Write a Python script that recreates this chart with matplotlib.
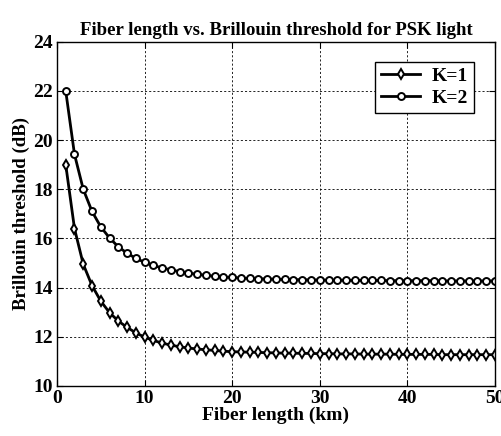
import numpy as np
import matplotlib
matplotlib.use('Agg')
import matplotlib.pyplot as plt

# Fiber length (km)
fiber_km = list(range(1, 51))

# Brillouin threshold (dB), K=1
thr_k1 = [19.0, 16.4, 14.95, 14.08, 13.45, 12.98, 12.64, 12.38, 12.16, 11.98,
          11.85, 11.74, 11.66, 11.59, 11.54, 11.50, 11.47, 11.44, 11.41, 11.39,
          11.38, 11.37, 11.36, 11.35, 11.34, 11.33, 11.33, 11.32, 11.32, 11.31,
          11.31, 11.30, 11.30, 11.30, 11.29, 11.29, 11.29, 11.29, 11.28, 11.28,
          11.28, 11.28, 11.28, 11.27, 11.27, 11.27, 11.27, 11.27, 11.27, 11.27]

# Brillouin threshold (dB), K=2
thr_k2 = [22.0, 19.42, 18.0, 17.1, 16.47, 16.02, 15.66, 15.40, 15.19, 15.03,
          14.90, 14.80, 14.72, 14.65, 14.59, 14.54, 14.50, 14.46, 14.43, 14.41,
          14.39, 14.37, 14.36, 14.35, 14.34, 14.33, 14.32, 14.32, 14.31, 14.31,
          14.30, 14.30, 14.30, 14.29, 14.29, 14.29, 14.29, 14.28, 14.28, 14.28,
          14.28, 14.28, 14.28, 14.27, 14.27, 14.27, 14.27, 14.27, 14.27, 14.27]

plt.rcParams['font.family'] = 'Liberation Serif'
plt.rcParams['font.weight'] = 'bold'

fig = plt.figure(figsize=(5.02, 4.36), dpi=100)
ax = fig.add_axes([0.1135, 0.115, 0.8725, 0.789])

ax.plot(fiber_km, thr_k1, color='black', lw=2.0, marker='d', ms=5.5,
        mfc='white', mec='black', mew=1.4, label='K=1')
ax.plot(fiber_km, thr_k2, color='black', lw=2.0, marker='o', ms=5,
        mfc='white', mec='black', mew=1.4, label='K=2')

ax.set_xlim(0, 50)
ax.set_ylim(10, 24)
ax.set_xticks([0, 10, 20, 30, 40, 50])
ax.set_yticks([10, 12, 14, 16, 18, 20, 22, 24])
ax.tick_params(direction='in', top=True, right=True, labelsize=14, length=4, pad=3)
for lbl in ax.get_xticklabels() + ax.get_yticklabels():
    lbl.set_fontweight('bold')

ax.grid(True, color='black', lw=0.6, linestyle=(0, (2.5, 2.5)))
for sp in ax.spines.values():
    sp.set_linewidth(1.0)

ax.set_title('Fiber length vs. Brillouin threshold for PSK light',
             fontsize=13.5, fontweight='bold', pad=5)
ax.set_xlabel('Fiber length (km)', fontsize=14, fontweight='bold', labelpad=0)
ax.set_ylabel('Brillouin threshold (dB)', fontsize=13.5, fontweight='bold', labelpad=2)

leg = ax.legend(loc='upper right', bbox_to_anchor=(0.952, 0.942), fontsize=14,
                fancybox=False, framealpha=1, edgecolor='black',
                handlelength=2.0, borderpad=0.3, labelspacing=0.2,
                handletextpad=0.6, borderaxespad=0)
leg.get_frame().set_linewidth(1.0)

plt.savefig('out.png', dpi=100)
